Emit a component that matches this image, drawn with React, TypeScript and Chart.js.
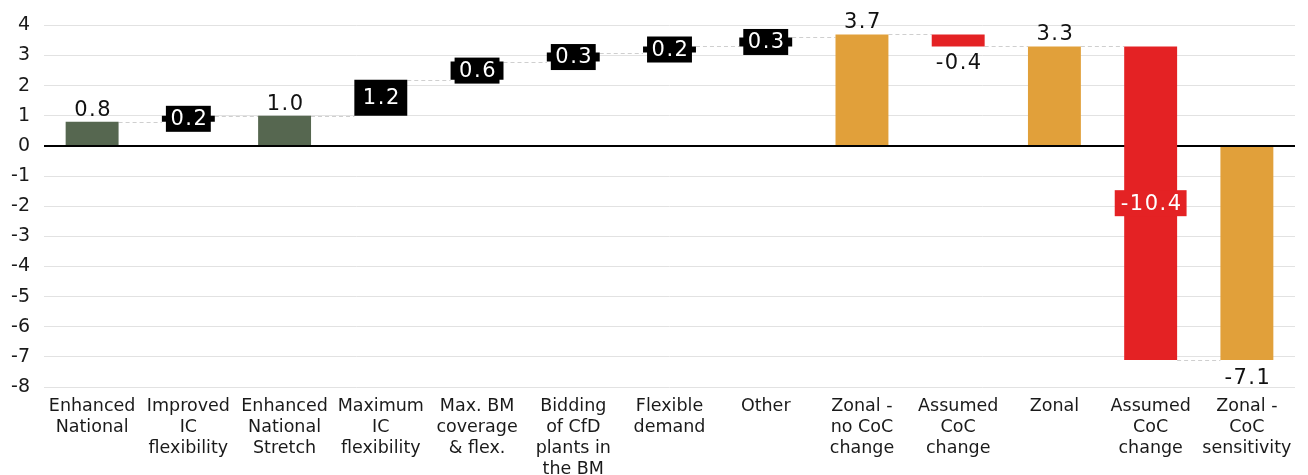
import { useEffect, useRef } from "react";
import { Chart, registerables } from "chart.js";

Chart.register(...registerables);

// Scenario steps of the waterfall (bn £)
const categories: string[][] = [
  ["Enhanced", "National"],
  ["Improved", "IC", "flexibility"],
  ["Enhanced", "National", "Stretch"],
  ["Maximum", "IC", "flexibility"],
  ["Max. BM", "coverage", "& flex."],
  ["Bidding", "of CfD", "plants in", "the BM"],
  ["Flexible", "demand"],
  ["Other"],
  ["Zonal -", "no CoC", "change"],
  ["Assumed", "CoC", "change"],
  ["Zonal"],
  ["Assumed", "CoC", "change"],
  ["Zonal -", "CoC", "sensitivity"],
];

// Value of each step: totals start from zero, deltas start where the previous bar ended
const stepValues = [0.8, 0.2, 1.0, 1.2, 0.6, 0.3, 0.2, 0.3, 3.7, -0.4, 3.3, -10.4, -7.1];
const stepIsTotal = [true, false, true, false, false, false, false, false, true, false, true, false, true];
const stepColors = [
  "#566750", "#000000", "#566750", "#000000", "#000000", "#000000", "#000000",
  "#000000", "#E1A03A", "#E42224", "#E1A03A", "#E42224", "#E1A03A",
];

const yTicks = [4, 3, 2, 1, 0, -1, -2, -3, -4, -5, -6, -7, -8];

const LABEL_FONT = "21px 'DejaVu Sans', Verdana, sans-serif";

// Floating [start, end] ranges built from the step values
function buildRanges(): [number, number][] {
  let running = 0;
  return stepValues.map((v, i) => {
    if (stepIsTotal[i]) {
      running = v;
      return [0, v];
    }
    const start = running;
    running = Math.round((running + v) * 100) / 100;
    return [start, running];
  });
}

const ranges = buildRanges();

const connectorPlugin = {
  id: "connectors",
  beforeDatasetsDraw(chart: any) {
    const meta = chart.getDatasetMeta(0);
    const y = chart.scales.y;
    const ctx = chart.ctx;
    ctx.save();
    ctx.strokeStyle = "#cfcfcf";
    ctx.lineWidth = 1;
    ctx.setLineDash([4, 3]);
    for (let i = 0; i < ranges.length - 1; i++) {
      const a = meta.data[i];
      const b = meta.data[i + 1];
      const py = Math.round(y.getPixelForValue(ranges[i][1])) + 0.5;
      ctx.beginPath();
      ctx.moveTo(a.x + a.width / 2, py);
      ctx.lineTo(b.x - b.width / 2, py);
      ctx.stroke();
    }
    ctx.restore();
  },
};

const labelPlugin = {
  id: "stepLabels",
  afterDatasetsDraw(chart: any) {
    const meta = chart.getDatasetMeta(0);
    const y = chart.scales.y;
    const ctx = chart.ctx;
    ctx.save();
    ctx.font = LABEL_FONT;
    (ctx as any).letterSpacing = "1.5px";
    ctx.textAlign = "center";
    stepValues.forEach((v, i) => {
      const el = meta.data[i];
      const [s, e] = ranges[i];
      const top = y.getPixelForValue(Math.max(s, e));
      const bottom = y.getPixelForValue(Math.min(s, e));
      const text = v.toFixed(1);
      const tw = ctx.measureText(text).width;
      const cx = el.x + 1;
      if (stepIsTotal[i]) {
        ctx.fillStyle = "#111";
        ctx.textBaseline = "alphabetic";
        if (v >= 0) ctx.fillText(text, cx, top - 6);
        else ctx.fillText(text, cx, bottom + 24);
        return;
      }
      const h = bottom - top;
      if (v < 0 && h < 30) {
        ctx.fillStyle = "#111";
        ctx.textBaseline = "alphabetic";
        ctx.fillText(text, cx, bottom + 23);
        return;
      }
      const mid = (top + bottom) / 2;
      const bw = tw + (v < 0 ? 10 : 7);
      const bh = 26;
      ctx.fillStyle = stepColors[i];
      ctx.fillRect(el.x - bw / 2, mid - bh / 2, bw, bh);
      ctx.fillStyle = "#ffffff";
      ctx.textBaseline = "middle";
      ctx.fillText(text, cx, mid + 1);
    });
    ctx.restore();
  },
};

export default function App() {
  const canvasRef = useRef<HTMLCanvasElement | null>(null);

  useEffect(() => {
    if (!canvasRef.current) return;
    const chart = new Chart(canvasRef.current, {
      type: "bar",
      data: {
        labels: categories,
        datasets: [
          {
            data: ranges as any,
            backgroundColor: stepColors,
            borderWidth: 0,
            categoryPercentage: 1,
            barPercentage: 0.55,
          },
        ],
      },
      options: {
        animation: false,
        responsive: false,
        layout: { padding: { top: 24, right: 13, left: 0, bottom: 0 } },
        plugins: {
          legend: { display: false },
          tooltip: { enabled: false },
        },
        scales: {
          x: {
            grid: { display: false },
            border: { display: false },
            ticks: {
              autoSkip: false,
              maxRotation: 0,
              padding: 1,
              color: "#1a1a1a",
              font: { family: "'DejaVu Sans', Verdana, sans-serif", size: 17.5, lineHeight: 1.2 },
            },
            afterFit(scale: any) {
              scale.height = 88;
            },
          },
          y: {
            min: -8,
            max: 4,
            border: { display: false },
            grid: {
              drawTicks: false,
              color: (c: any) => (c.tick && c.tick.value === 0 ? "#000000" : "#e2e2e2"),
              lineWidth: (c: any) => (c.tick && c.tick.value === 0 ? 2 : 1),
            },
            afterBuildTicks(scale: any) {
              scale.ticks = yTicks.map((v) => ({ value: v }));
            },
            ticks: {
              padding: 14,
              color: "#1a1a1a",
              font: { family: "'DejaVu Sans', Verdana, sans-serif", size: 19 },
              callback: (v: any) => String(v),
            },
            afterFit(scale: any) {
              scale.width = 44;
            },
          },
        },
      },
      plugins: [connectorPlugin, labelPlugin],
    });
    return () => chart.destroy();
  }, []);

  return (
    <div style={{ position: "absolute", left: 0, top: 0, width: 1308, height: 475, background: "#fff" }}>
      <canvas ref={canvasRef} width={1308} height={475} style={{ display: "block" }} />
    </div>
  );
}
